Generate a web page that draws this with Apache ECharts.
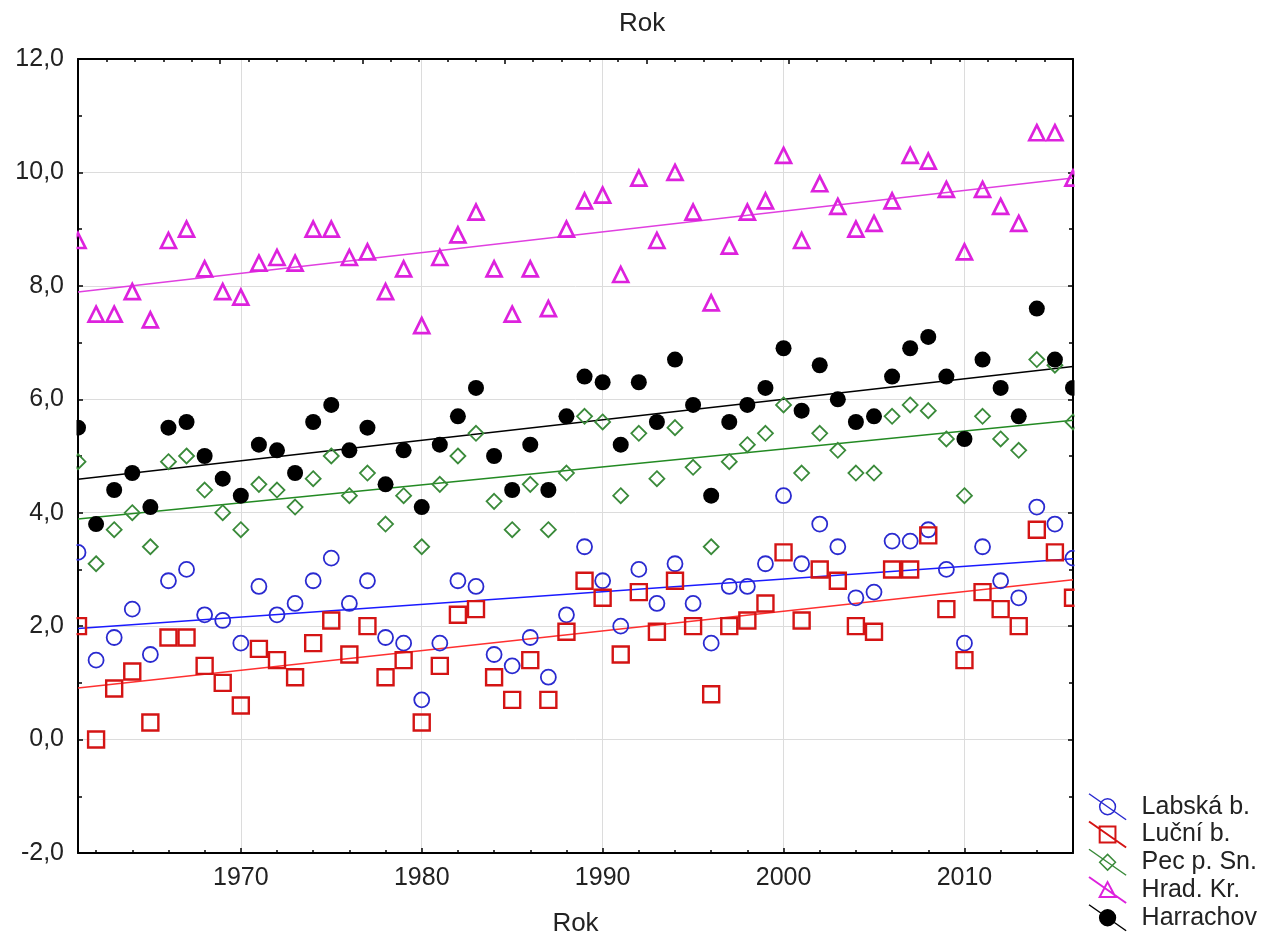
<!DOCTYPE html>
<html>
<head>
<meta charset="utf-8">
<script src="https://cdn.jsdelivr.net/npm/echarts@6/dist/echarts.min.js"></script>
<style>
html,body{margin:0;padding:0;background:#fff;}
#chart{width:1263px;height:942px;}
</style>
</head>
<body>
<div id="chart"></div>
<script>
// ---------- DATA ----------
const years = [1961,1962,1963,1964,1965,1966,1967,1968,1969,1970,
  1971,1972,1973,1974,1975,1976,1977,1978,1979,1980,
  1981,1982,1983,1984,1985,1986,1987,1988,1989,1990,
  1991,1992,1993,1994,1995,1996,1997,1998,1999,2000,
  2001,2002,2003,2004,2005,2006,2007,2008,2009,2010,
  2011,2012,2013,2014,2015,2016];

const seriesNames = ['Labská b.', 'Luční b.', 'Pec p. Sn.', 'Hrad. Kr.', 'Harrachov'];

const labska = [3.3,1.4,1.8,2.3,1.5,2.8,3.0,2.2,2.1,1.7,
  2.7,2.2,2.4,2.8,3.2,2.4,2.8,1.8,1.7,0.7,
  1.7,2.8,2.7,1.5,1.3,1.8,1.1,2.2,3.4,2.8,
  2.0,3.0,2.4,3.1,2.4,1.7,2.7,2.7,3.1,4.3,
  3.1,3.8,3.4,2.5,2.6,3.5,3.5,3.7,3.0,1.7,
  3.4,2.8,2.5,4.1,3.8,3.2];

const lucni = [2.0,0.0,0.9,1.2,0.3,1.8,1.8,1.3,1.0,0.6,
  1.6,1.4,1.1,1.7,2.1,1.5,2.0,1.1,1.4,0.3,
  1.3,2.2,2.3,1.1,0.7,1.4,0.7,1.9,2.8,2.5,
  1.5,2.6,1.9,2.8,2.0,0.8,2.0,2.1,2.4,3.3,
  2.1,3.0,2.8,2.0,1.9,3.0,3.0,3.6,2.3,1.4,
  2.6,2.3,2.0,3.7,3.3,2.5];

const pec = [4.9,3.1,3.7,4.0,3.4,4.9,5.0,4.4,4.0,3.7,
  4.5,4.4,4.1,4.6,5.0,4.3,4.7,3.8,4.3,3.4,
  4.5,5.0,5.4,4.2,3.7,4.5,3.7,4.7,5.7,5.6,
  4.3,5.4,4.6,5.5,4.8,3.4,4.9,5.2,5.4,5.9,
  4.7,5.4,5.1,4.7,4.7,5.7,5.9,5.8,5.3,4.3,
  5.7,5.3,5.1,6.7,6.6,5.6];

const hradKr = [8.8,7.5,7.5,7.9,7.4,8.8,9.0,8.3,7.9,7.8,
  8.4,8.5,8.4,9.0,9.0,8.5,8.6,7.9,8.3,7.3,
  8.5,8.9,9.3,8.3,7.5,8.3,7.6,9.0,9.5,9.6,
  8.2,9.9,8.8,10.0,9.3,7.7,8.7,9.3,9.5,10.3,
  8.8,9.8,9.4,9.0,9.1,9.5,10.3,10.2,9.7,8.6,
  9.7,9.4,9.1,10.7,10.7,9.9];

const harrachov = [5.5,3.8,4.4,4.7,4.1,5.5,5.6,5.0,4.6,4.3,
  5.2,5.1,4.7,5.6,5.9,5.1,5.5,4.5,5.1,4.1,
  5.2,5.7,6.2,5.0,4.4,5.2,4.4,5.7,6.4,6.3,
  5.2,6.3,5.6,6.7,5.9,4.3,5.6,5.9,6.2,6.9,
  5.8,6.6,6.0,5.6,5.7,6.4,6.9,7.1,6.4,5.3,
  6.7,6.2,5.7,7.6,6.7,6.2];

// linear trend lines: value at first and last year
const trendYears = [1961, 2016];
const trendLabska = [1.96, 3.19];
const trendLucni = [0.91, 2.82];
const trendPec = [3.89, 5.63];
const trendHradKr = [7.89, 9.90];
const trendHarrachov = [4.59, 6.58];

// axis tick labels
const xTickLabels = [1970, 1980, 1990, 2000, 2010];
const xMinorTicks = [1962,1964,1966,1968,1972,1974,1976,1978,1982,1984,1986,1988,
  1992,1994,1996,1998,2002,2004,2006,2008,2012,2014];

// ---------- CHART ----------
const FONT = '"Liberation Sans", Arial, sans-serif';
const TXT = '#222';
const GRID = '#dcdcdc';

const CIRCLE_ICON = 'path://M0,0L40,28M28.5,14A8.5,8.5,0,1,1,11.5,14A8.5,8.5,0,1,1,28.5,14Z';
const styles = [
  {values: labska, trend: trendLabska, symbol: 'circle', size: 15, fill: 'transparent', stroke: '#2a2ad0', bw: 1.8, line: '#1a1aff',
   icon: CIRCLE_ICON},
  {values: lucni, trend: trendLucni, symbol: 'rect', size: 16, fill: 'transparent', stroke: '#d41414', bw: 2.4, line: '#ff3030',
   icon: 'path://M0,0L40,28M11.5,5.5L28.5,5.5L28.5,22.5L11.5,22.5Z'},
  {values: pec, trend: trendPec, symbol: 'diamond', size: 15, fill: 'transparent', stroke: '#3a8a3a', bw: 1.8, line: '#238a23',
   icon: 'path://M0,0L40,28M20,5.5L28.5,14L20,22.5L11.5,14Z'},
  {values: hradKr, trend: trendHradKr, symbol: 'triangle', size: 15, fill: 'transparent', stroke: '#dd22dd', bw: 2.7, line: '#e040e0',
   icon: 'path://M0,0L40,28M20,5.5L28.5,21.5L11.5,21.5Z'},
  {values: harrachov, trend: trendHarrachov, symbol: 'circle', size: 16, fill: '#000', stroke: '#000', bw: 0, line: '#000',
   icon: CIRCLE_ICON}
];

const series = [];
styles.forEach((s, i) => {
  series.push({
    name: seriesNames[i],
    type: 'line',
    xAxisIndex: 0, yAxisIndex: 0,
    data: trendYears.map((y, k) => [y, s.trend[k]]),
    symbol: 'none',
    showSymbol: false,
    silent: true,
    lineStyle: {color: s.line, width: 1.5},
    itemStyle: {color: s.line},
    z: 2
  });
});
styles.forEach((s, i) => {
  series.push({
    name: seriesNames[i],
    type: 'scatter',
    xAxisIndex: 0, yAxisIndex: 0,
    data: years.map((y, k) => [y, s.values[k]]),
    symbol: s.symbol,
    symbolSize: s.size,
    itemStyle: {color: s.fill, borderColor: s.stroke, borderWidth: s.bw, opacity: 1},
    z: 3 + i
  });
});

const legendData = styles.map((s, i) => ({
  name: seriesNames[i],
  icon: s.icon,
  itemStyle: {color: s.fill, borderColor: s.stroke, borderWidth: i === 1 || i === 3 ? 2 : 1.5}
}));

const option = {
  animation: false,
  backgroundColor: '#fff',
  title: {
    text: 'Rok',
    left: 614, top: 6,
    textStyle: {fontSize: 26, fontWeight: 'normal', color: TXT, fontFamily: FONT}
  },
  grid: {left: 78, right: 190, top: 59, bottom: 86, containLabel: false},
  legend: {
    data: legendData,
    orient: 'vertical',
    left: 1083, top: 788,
    itemWidth: 40, itemHeight: 26, itemGap: 0,
    selectedMode: false,
    textStyle: {fontSize: 25, color: TXT, fontFamily: FONT, lineHeight: 26, padding: [0, 0, 0, 9]}
  },
  xAxis: [
    {
      type: 'value', position: 'bottom', min: 1961, max: 2016,
      name: 'Rok', nameLocation: 'middle', nameGap: 58,
      nameTextStyle: {fontSize: 26, color: TXT, fontFamily: FONT},
      axisLine: {show: true, onZero: false, lineStyle: {color: '#000', width: 2}},
      axisTick: {show: true, inside: true, length: 5, customValues: xTickLabels, lineStyle: {color: '#000', width: 1.5}},
      axisLabel: {show: true, customValues: xTickLabels, fontSize: 25, color: TXT, fontFamily: FONT, margin: 13,
        formatter: v => String(v)},
      splitLine: {show: true, lineStyle: {color: GRID, width: 1}}
    },
    {
      type: 'value', position: 'bottom', min: 1961, max: 2016,
      axisLine: {show: false, onZero: false},
      axisTick: {show: true, inside: true, length: 3, customValues: xMinorTicks, lineStyle: {color: '#000', width: 1.5}},
      axisLabel: {show: false},
      splitLine: {show: false}
    },
    {
      type: 'value', position: 'top', min: 0, max: 35, interval: 5,
      axisLine: {show: true, onZero: false, lineStyle: {color: '#000', width: 2}},
      axisTick: {show: true, inside: true, length: 5, lineStyle: {color: '#000', width: 1.5}},
      minorTick: {show: true, splitNumber: 5, length: 3, lineStyle: {color: '#000', width: 1.5}},
      axisLabel: {show: false},
      splitLine: {show: false}
    }
  ],
  yAxis: [
    {
      type: 'value', position: 'left', min: -2, max: 12, interval: 2,
      axisLine: {show: true, onZero: false, lineStyle: {color: '#000', width: 2}},
      axisTick: {show: true, inside: true, length: 5, lineStyle: {color: '#000', width: 1.5}},
      minorTick: {show: true, splitNumber: 2, length: 4, lineStyle: {color: '#000', width: 1.5}},
      axisLabel: {fontSize: 25, color: TXT, fontFamily: FONT, margin: 14,
        formatter: v => v.toFixed(1).replace('.', ',')},
      splitLine: {show: true, lineStyle: {color: GRID, width: 1}}
    },
    {
      type: 'value', position: 'right', min: -2, max: 12, interval: 2,
      axisLine: {show: true, onZero: false, lineStyle: {color: '#000', width: 2}},
      axisTick: {show: true, inside: true, length: 5, lineStyle: {color: '#000', width: 1.5}},
      minorTick: {show: true, splitNumber: 2, length: 4, lineStyle: {color: '#000', width: 1.5}},
      axisLabel: {show: false},
      splitLine: {show: false}
    }
  ],
  graphic: [
    {type: 'rect', shape: {x: 66, y: 52, width: 10.5, height: 812}, style: {fill: '#fff'}, z: 100, silent: true},
    {type: 'rect', shape: {x: 1074.5, y: 52, width: 10, height: 725}, style: {fill: '#fff'}, z: 100, silent: true}
  ],
  series: series
};

const chart = echarts.init(document.getElementById('chart'), null, {renderer: 'canvas'});
chart.setOption(option);
</script>
</body>
</html>
